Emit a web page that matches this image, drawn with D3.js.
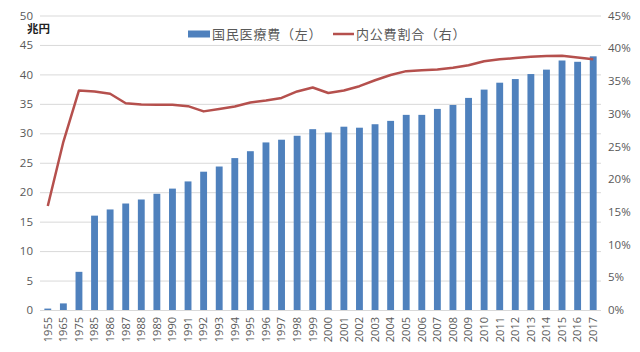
<!DOCTYPE html>
<html><head><meta charset="utf-8">
<script src="https://cdn.jsdelivr.net/npm/d3@7"></script>
<style>body{margin:0;background:#fff;}svg{display:block;font-family:"Noto Sans CJK JP","Noto Sans",sans-serif;}</style>
</head><body><svg id="c" width="640" height="352"></svg>
<script>
const years = ["1955","1965","1975","1985","1986","1987","1988","1989","1990","1991","1992","1993","1994","1995","1996","1997","1998","1999","2000","2001","2002","2003","2004","2005","2006","2007","2008","2009","2010","2011","2012","2013","2014","2015","2016","2017"];
const expense = [0.24,1.12,6.48,16.02,17.07,18.08,18.76,19.73,20.61,21.83,23.48,24.36,25.79,26.96,28.45,28.91,29.58,30.70,30.14,31.12,30.95,31.54,32.11,33.13,33.13,34.14,34.81,36.01,37.42,38.59,39.21,40.06,40.81,42.36,42.14,43.07];
const publicShare = [15.9,25.7,33.55,33.4,33.05,31.6,31.4,31.35,31.35,31.15,30.35,30.7,31.1,31.7,32.0,32.4,33.4,34.0,33.15,33.55,34.2,35.1,35.9,36.5,36.65,36.75,37.0,37.4,38.0,38.3,38.5,38.7,38.8,38.85,38.6,38.3];
const leftTicks = [0,5,10,15,20,25,30,35,40,45,50];
const rightTicks = [0,5,10,15,20,25,30,35,40,45];
const seriesNames = ["国民医療費（左）","内公費割合（右）"];
const unitLabel = "兆円";

const svg = d3.select("#c");
const L = 40, R = 601, T = 15.5, B = 310;
const x = d3.scaleBand().domain(years).range([L, R]).paddingInner(0.56).paddingOuter(0.28);
const yL = d3.scaleLinear().domain([0,50]).range([B, T]);
const yR = d3.scaleLinear().domain([0,45]).range([B, T]);
const txt = "#595959";

// grid
svg.append("g").selectAll("line").data(leftTicks).join("line")
  .attr("x1", L).attr("x2", R).attr("y1", d=>yL(d)+0.5).attr("y2", d=>yL(d)+0.5)
  .attr("stroke", "#d9d9d9").attr("stroke-width", 1);

// left axis
const ga = svg.append("g").attr("transform", `translate(${L-7},0)`)
  .call(d3.axisLeft(yL).tickValues(leftTicks).tickSize(0).tickPadding(0));
ga.select(".domain").remove();
ga.selectAll("text").attr("fill", txt).style("font-size","11.5px").style("font-family","Open Sans, sans-serif");

// right axis
const gr = svg.append("g").attr("transform", `translate(${R+7},0)`)
  .call(d3.axisRight(yR).tickValues(rightTicks).tickFormat(d=>d+"%").tickSize(0).tickPadding(0));
gr.select(".domain").remove();
gr.selectAll("text").attr("fill", txt).style("font-size","11.5px").style("font-family","Open Sans, sans-serif");

// bars
svg.append("g").selectAll("rect").data(expense).join("rect")
  .attr("x", (d,i)=>x(years[i])).attr("width", x.bandwidth())
  .attr("y", d=>yL(d)).attr("height", d=>B - yL(d))
  .attr("fill", "#4f81bd");

// line
const line = d3.line().x((d,i)=>x(years[i]) + x.bandwidth()/2).y(d=>yR(d));
svg.append("path").datum(publicShare).attr("d", line)
  .attr("fill","none").attr("stroke","#b5504d").attr("stroke-width",2.5).attr("stroke-linejoin","round");

// x axis labels
const gx = svg.append("g").attr("transform", `translate(0,${B})`)
  .call(d3.axisBottom(x).tickSize(0).tickPadding(0));
gx.select(".domain").remove();
gx.selectAll("text").attr("fill", txt).style("font-size","11px").style("font-family","Open Sans, sans-serif")
  .attr("transform","rotate(-90)").attr("text-anchor","end").attr("x",-7).attr("y",0).attr("dy","0.35em");

// unit
svg.append("text").attr("x", 27).attr("y", 33).text(unitLabel)
  .attr("fill","#222").style("font-size","11.5px").style("font-weight","bold");

// legend
const lg = svg.append("g");
lg.append("rect").attr("x",188).attr("y",30.5).attr("width",22).attr("height",7).attr("fill","#4f81bd");
lg.append("text").attr("x",212).attr("y",38.5).text(seriesNames[0]).attr("fill",txt)
  .style("font-size","13px").style("letter-spacing","0.8px");
lg.append("line").attr("x1",333).attr("x2",354).attr("y1",34).attr("y2",34).attr("stroke","#b5504d").attr("stroke-width",2.5);
lg.append("text").attr("x",356).attr("y",38.5).text(seriesNames[1]).attr("fill",txt)
  .style("font-size","13px").style("letter-spacing","0.8px");
</script></body></html>
